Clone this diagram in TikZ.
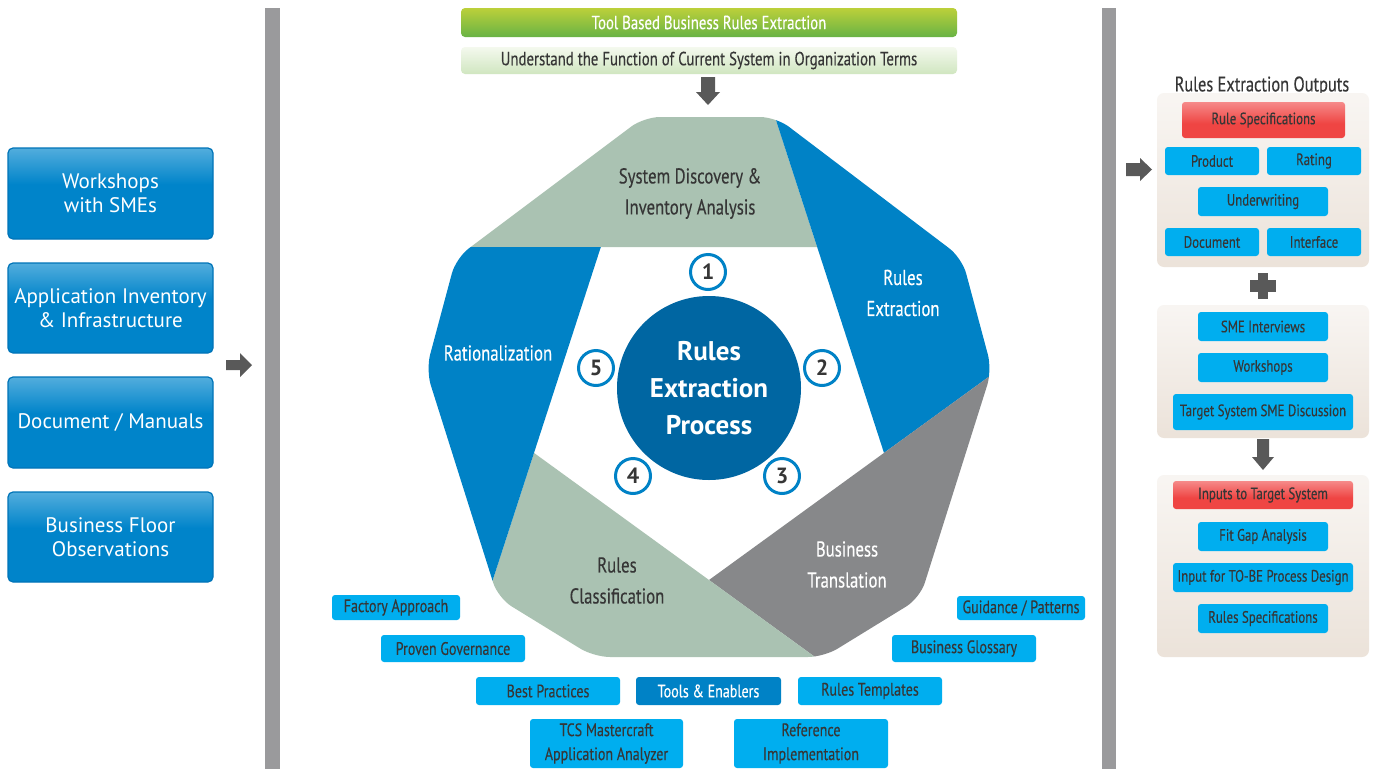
\documentclass[tikz,border=0pt]{standalone}
\usepackage{fontspec}
\setmainfont{PT Sans}
\newfontfamily\cond[FakeStretch=0.78,FakeBold=0.25]{PT Sans}
\usetikzlibrary{calc}
\definecolor{bandgreen}{HTML}{AAC2B2}
\definecolor{bandblue}{HTML}{0082C6}
\definecolor{bandgray}{HTML}{87888A}
\definecolor{circblue}{HTML}{0066A2}
\definecolor{tagblue}{HTML}{00AEEF}
\definecolor{tooldark}{HTML}{0082C6}
\definecolor{txtdark}{HTML}{363636}
\definecolor{barGray}{HTML}{9A9A9C}
\definecolor{arrowgray}{HTML}{595959}
\definecolor{boxblue}{HTML}{0084CA}
\definecolor{boxedge}{HTML}{0074B8}
\definecolor{boxlight}{HTML}{B9E0F4}
\definecolor{redbox}{HTML}{EF4543}
\definecolor{redlight}{HTML}{FBC3C3}
\definecolor{beige}{HTML}{E5D9CD}
\definecolor{greentop}{HTML}{BCD03A}
\definecolor{greenbot}{HTML}{68B345}
\definecolor{lgtop}{HTML}{F4F9EE}
\definecolor{lgbot}{HTML}{D0E6C0}
\pgfdeclareverticalshading{leftbox}{100bp}{color(0bp)=(boxblue); color(55bp)=(boxblue); color(100bp)=(boxlight)}
\pgfdeclareverticalshading{redsh}{100bp}{color(0bp)=(redbox); color(45bp)=(redbox); color(100bp)=(redlight)}
\pgfdeclareverticalshading{panelsh}{100bp}{color(0bp)=(beige); color(100bp)=(white)}
\begin{document}
\begin{tikzpicture}[x=1pt,y=-1pt,
  lbox/.style={shade, shading=leftbox, draw=boxedge, line width=1.2pt, rounded corners=5pt, minimum width=205pt, text=white, align=center, font=\fontsize{21}{24}\selectfont, inner sep=0pt},
  tag/.style={fill=tagblue, rounded corners=3pt, text=txtdark, align=center, font=\cond\fontsize{18}{24}\selectfont, inner sep=0pt},
  rtag/.style={tag, font=\cond\fontsize{16.5}{18}\selectfont},
  redtag/.style={shade, shading=redsh, rounded corners=3pt, text=txtdark, font=\cond\fontsize{16.5}{18}\selectfont, inner sep=0pt},
  panel/.style={shade, shading=panelsh, rounded corners=7pt, inner sep=0pt, minimum width=212pt},
  bandtxt/.style={align=center, font=\cond\fontsize{21.5}{31}\selectfont},
  numc/.style={circle, draw=bandblue, line width=3pt, fill=white, minimum size=35pt, inner sep=0pt, text=txtdark, font=\bfseries\fontsize{22}{22}\selectfont},
  blk/.style={fill=arrowgray},
]
\useasboundingbox[fill=white] (0,0) rectangle (1377,769);

% vertical separators
\fill[barGray] (265,8) rectangle (280,769);
\fill[barGray] (1102,8) rectangle (1116,769);

% left inputs
\node[lbox, minimum height=91pt] (w1) at (110.5,193.5) {Workshops\\with SMEs};
\node[lbox, minimum height=90pt] (w2) at (110.5,308) {Application Inventory\\\& Infrastructure};
\node[lbox, minimum height=91pt] (w3) at (110.5,422.5) {Document / Manuals};
\node[lbox, minimum height=90pt] (w4) at (110.5,537) {Business Floor\\Observations};
\fill[blk] (226,360) -- (240,360) -- (240,353) -- (252,365) -- (240,377) -- (240,370) -- (226,370) -- cycle;

% top bars
\node[top color=greentop, bottom color=greenbot, rounded corners=4pt, minimum width=496pt, minimum height=29pt, inner sep=0pt, text=white, font=\cond\fontsize{19}{20}\selectfont] (tb) at (709,22.5) {Tool Based Business Rules Extraction};
\node[top color=lgtop, bottom color=lgbot, rounded corners=4pt, minimum width=496pt, minimum height=27pt, inner sep=0pt, text=txtdark, font=\cond\fontsize{19}{20}\selectfont] (ub) at (709,60.5) {Understand the Function of Current System in Organization Terms};
\fill[blk] (701,77) -- (715,77) -- (715,92) -- (720,92) -- (708,105) -- (696,92) -- (701,92) -- cycle;

% pinwheel
\coordinate (P1) at (600.8,247.1);
\coordinate (P2) at (817.2,247.1);
\coordinate (P3) at (884,452.9);
\coordinate (P4) at (709,580);
\coordinate (P5) at (534,452.9);
\begin{scope}
\clip[rounded corners=16pt] (644,117) -- (776,117) -- (962,258) -- (992,370) -- (920,598) -- (824,657) -- (594,657) -- (498,598) -- (426,370) -- (456,258) -- cycle;
\fill[bandgreen] (P2) -- ($(P2)!4!(P1)$) -- ($(P2)!-4!(P3)$) -- cycle;
\fill[bandblue] (P3) -- ($(P3)!4!(P2)$) -- ($(P3)!-4!(P4)$) -- cycle;
\fill[bandgray] (P4) -- ($(P4)!4!(P3)$) -- ($(P4)!-4!(P5)$) -- cycle;
\fill[bandgreen] (P5) -- ($(P5)!4!(P4)$) -- ($(P5)!-4!(P1)$) -- cycle;
\fill[bandblue] (P1) -- ($(P1)!4!(P5)$) -- ($(P1)!-4!(P2)$) -- cycle;
\end{scope}
\node[bandtxt, text=txtdark] (s1) at (690,193.5) {System Discovery \&\\Inventory Analysis};
\node[bandtxt, text=white] (s2) at (903,293) {Rules\\Extraction};
\node[bandtxt, text=white] (s3) at (847,564.5) {Business\\Translation};
\node[bandtxt, text=txtdark] (s4) at (617,580.5) {Rules\\Classification};
\node[bandtxt, text=white] (s5) at (498,353) {Rationalization};

\node[circle, fill=circblue, minimum size=184pt, inner sep=0pt, text=white, align=center, font=\bfseries\fontsize{27}{37}\selectfont] (core) at (709,388) {Rules\\Extraction\\Process};
\node[numc] (n1) at (708,272) {1};
\node[numc] (n2) at (822,368) {2};
\node[numc] (n3) at (782,476) {3};
\node[numc] (n4) at (633,476) {4};
\node[numc] (n5) at (596,368) {5};

% tools & enablers
\node[tag, minimum width=128pt, minimum height=25pt] (t1) at (396,607.5) {Factory Approach};
\node[tag, minimum width=144pt, minimum height=27pt] (t2) at (453,648.5) {Proven Governance};
\node[tag, minimum width=144pt, minimum height=28pt] (t3) at (548,691) {Best Practices};
\node[tag, fill=tooldark, text=white, minimum width=145pt, minimum height=28pt] (t4) at (708.5,691) {Tools \& Enablers};
\node[tag, minimum width=144pt, minimum height=28pt] (t5) at (870,691) {Rules Templates};
\node[tag, minimum width=153pt, minimum height=49pt] (t6) at (606.5,743.5) {TCS Mastercraft\\Application Analyzer};
\node[tag, minimum width=154pt, minimum height=49pt] (t7) at (811,743.5) {Reference\\Implementation};
\node[tag, minimum width=128pt, minimum height=24pt] (t8) at (1021,608) {Guidance / Patterns};
\node[tag, minimum width=144pt, minimum height=27pt] (t9) at (964,648.5) {Business Glossary};

% right column
\node[text=txtdark, font=\cond\fontsize{21}{22}\selectfont] (ro) at (1262,86) {Rules Extraction Outputs};
\node[panel, minimum height=174pt] (pa) at (1263,180) {};
\node[panel, minimum height=133pt] (pb) at (1263,371.5) {};
\node[panel, minimum height=182pt] (pc) at (1263,566) {};
\node[redtag, minimum width=163pt, minimum height=36pt] (r1) at (1263.5,120) {Rule Specifications};
\node[rtag, minimum width=94pt, minimum height=28pt] (r2) at (1212,161) {Product};
\node[rtag, minimum width=94pt, minimum height=28pt] (r3) at (1314,161) {Rating};
\node[rtag, minimum width=130pt, minimum height=29pt] (r4) at (1263,201.5) {Underwriting};
\node[rtag, minimum width=94pt, minimum height=28pt] (r5) at (1212,242) {Document};
\node[rtag, minimum width=94pt, minimum height=28pt] (r6) at (1314,242) {Interface};
\node[rtag, minimum width=130pt, minimum height=29pt] (q1) at (1263,326.5) {SME Interviews};
\node[rtag, minimum width=130pt, minimum height=29pt] (q2) at (1263,367.5) {Workshops};
\node[rtag, minimum width=180pt, minimum height=36pt] (q3) at (1263,412) {Target System SME Discussion};
\node[redtag, minimum width=180pt, minimum height=28pt] (i1) at (1263,495) {Inputs to Target System};
\node[rtag, minimum width=130pt, minimum height=29pt] (i2) at (1263,536.5) {Fit Gap Analysis};
\node[rtag, minimum width=180pt, minimum height=29pt] (i3) at (1263,577.5) {Input for TO-BE Process Design};
\node[rtag, minimum width=130pt, minimum height=29pt] (i4) at (1263,618.5) {Rules Specifications};

\fill[blk] (1126,163) -- (1140,163) -- (1140,158) -- (1152,169.5) -- (1140,181) -- (1140,176) -- (1126,176) -- cycle;
\fill[blk] (1258,273) rectangle (1268,299);
\fill[blk] (1250,280) rectangle (1276,292);
\fill[blk] (1257,439) -- (1269,439) -- (1269,457) -- (1274,457) -- (1263,470) -- (1252,457) -- (1257,457) -- cycle;
\end{tikzpicture}
\end{document}
